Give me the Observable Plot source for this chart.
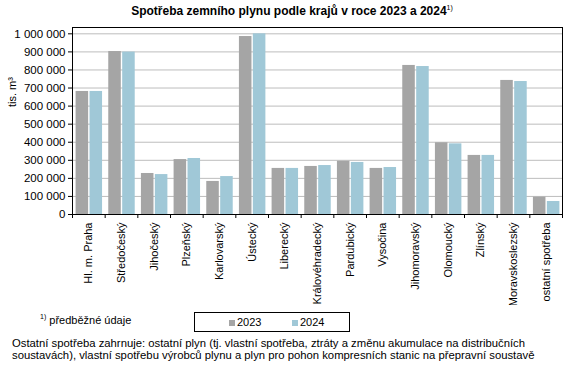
<!DOCTYPE html>
<html>
<head>
<meta charset="utf-8">
<script src="https://cdn.jsdelivr.net/npm/d3@7"></script>
<script src="https://cdn.jsdelivr.net/npm/@observablehq/plot@0.6"></script>
<style>
  html, body { margin: 0; padding: 0; background: #fff; }
  body { font-family: "Liberation Sans", Arial, sans-serif; color: #000; }
  #wrap { position: relative; width: 572px; height: 369px; overflow: hidden; }
  #chart { position: absolute; left: 0; top: 0; }
  .abs { position: absolute; white-space: nowrap; }
  #title { left: 0px; width: 584px; top: 4px; text-align: center; font-weight: bold; font-size: 12px; }
  #title sup, #foot sup { font-size: 7px; font-weight: normal; vertical-align: 5px; }
  #foot { left: 40px; top: 313px; font-size: 11px; }
  #legend { left: 194px; top: 312px; width: 156px; height: 20px; border: 1px solid #000; box-sizing: border-box; font-size: 11px; }
  .li { position: absolute; top: 3px; }
  .sw { display: inline-block; width: 6px; height: 6px; margin-right: 2px; vertical-align: 0px; }
  #note { left: 12px; top: 337px; font-size: 11.3px; line-height: 12px; }
</style>
</head>
<body>
<div id="wrap">
  <div id="chart"></div>
  <div id="title" class="abs">Spotřeba zemního plynu podle krajů v roce 2023 a 2024<sup>1)</sup></div>
  <div id="foot" class="abs"><sup>1)</sup> předběžné údaje</div>
  <div id="legend" class="abs"></div>
  <div id="note" class="abs">Ostatní spotřeba zahrnuje: ostatní plyn (tj. vlastní spotřeba, ztráty a změnu akumulace na distribučních<br>soustavách), vlastní spotřebu výrobců plynu a plyn pro pohon kompresních stanic na přepravní soustavě</div>
</div>
<script>
const categories = ["Hl. m. Praha", "Středočeský", "Jihočeský", "Plzeňský", "Karlovarský", "Ústecký", "Liberecký", "Královéhradecký", "Pardubický", "Vysočina", "Jihomoravský", "Olomoucký", "Zlínský", "Moravskoslezský", "ostatní spotřeba"];
const years = ["2023", "2024"];
const values2023 = [681000, 902000, 227000, 304000, 183000, 985000, 255000, 266000, 295000, 255000, 825000, 397000, 327000, 742000, 96000];
const values2024 = [681000, 899000, 221000, 310000, 210000, 1000000, 255000, 271000, 288000, 260000, 819000, 391000, 327000, 736000, 72000];
const yTicks = [0, 100000, 200000, 300000, 400000, 500000, 600000, 700000, 800000, 900000, 1000000];
const colors = {"2023": "#a5a5a5", "2024": "#a0c8d7"};

const table = [];
categories.forEach((c, i) => {
  table.push({cat: c, idx: i, year: "2023", value: values2023[i]});
  table.push({cat: c, idx: i, year: "2024", value: values2024[i]});
});

// position of each year's bar inside a category slot (slot = one unit on x)
const sub = d3.scaleBand().domain(years).range([0.11, 0.92]).paddingInner(0.1);

const fmt = v => d3.format(",")(v).replace(/,/g, "\u00a0");

const plot = Plot.plot({
  width: 572,
  height: 305,
  marginTop: 27,
  marginBottom: 91,
  marginLeft: 72,
  marginRight: 10,
  style: {fontFamily: "'Liberation Sans', Arial, sans-serif", fontSize: "11px", color: "#000", background: "#fff"},
  x: {type: "linear", domain: [0, categories.length]},
  y: {domain: [0, 1035000]},
  color: {domain: years, range: years.map(y => colors[y])},
  marks: [
    Plot.gridY({ticks: yTicks.slice(1), stroke: "#bdbdbd", strokeOpacity: 1}),
    Plot.rectY(table, {
      x1: d => d.idx + sub(d.year),
      x2: d => d.idx + sub(d.year) + sub.bandwidth(),
      y: "value",
      fill: "year"
    }),
    Plot.frame({stroke: "#000"}),
    Plot.axisY({ticks: yTicks, tickFormat: fmt, tickSize: 4, tickPadding: 3, label: null, fontSize: 11.5}),
    Plot.text(["tis. m³"], {frameAnchor: "left", dx: -60, dy: -14, rotate: -90, fontSize: 11}),
    Plot.axisX({ticks: d3.range(categories.length + 1), tickFormat: () => "", tickSize: 4, label: null}),
    Plot.axisX({ticks: categories.map((c, i) => i + 0.5), tickFormat: v => categories[Math.floor(v)], tickSize: 0, tickPadding: 8, tickRotate: -90, label: null})
  ]
});
document.getElementById("chart").appendChild(plot);

const legend = document.getElementById("legend");
const lx = {"2023": 34, "2024": 97};
years.forEach(y => {
  const s = document.createElement("span");
  s.className = "li";
  s.style.left = lx[y] + "px";
  s.innerHTML = `<span class="sw" style="background:${colors[y]}"></span>${y}`;
  legend.appendChild(s);
});
</script>
</body>
</html>
